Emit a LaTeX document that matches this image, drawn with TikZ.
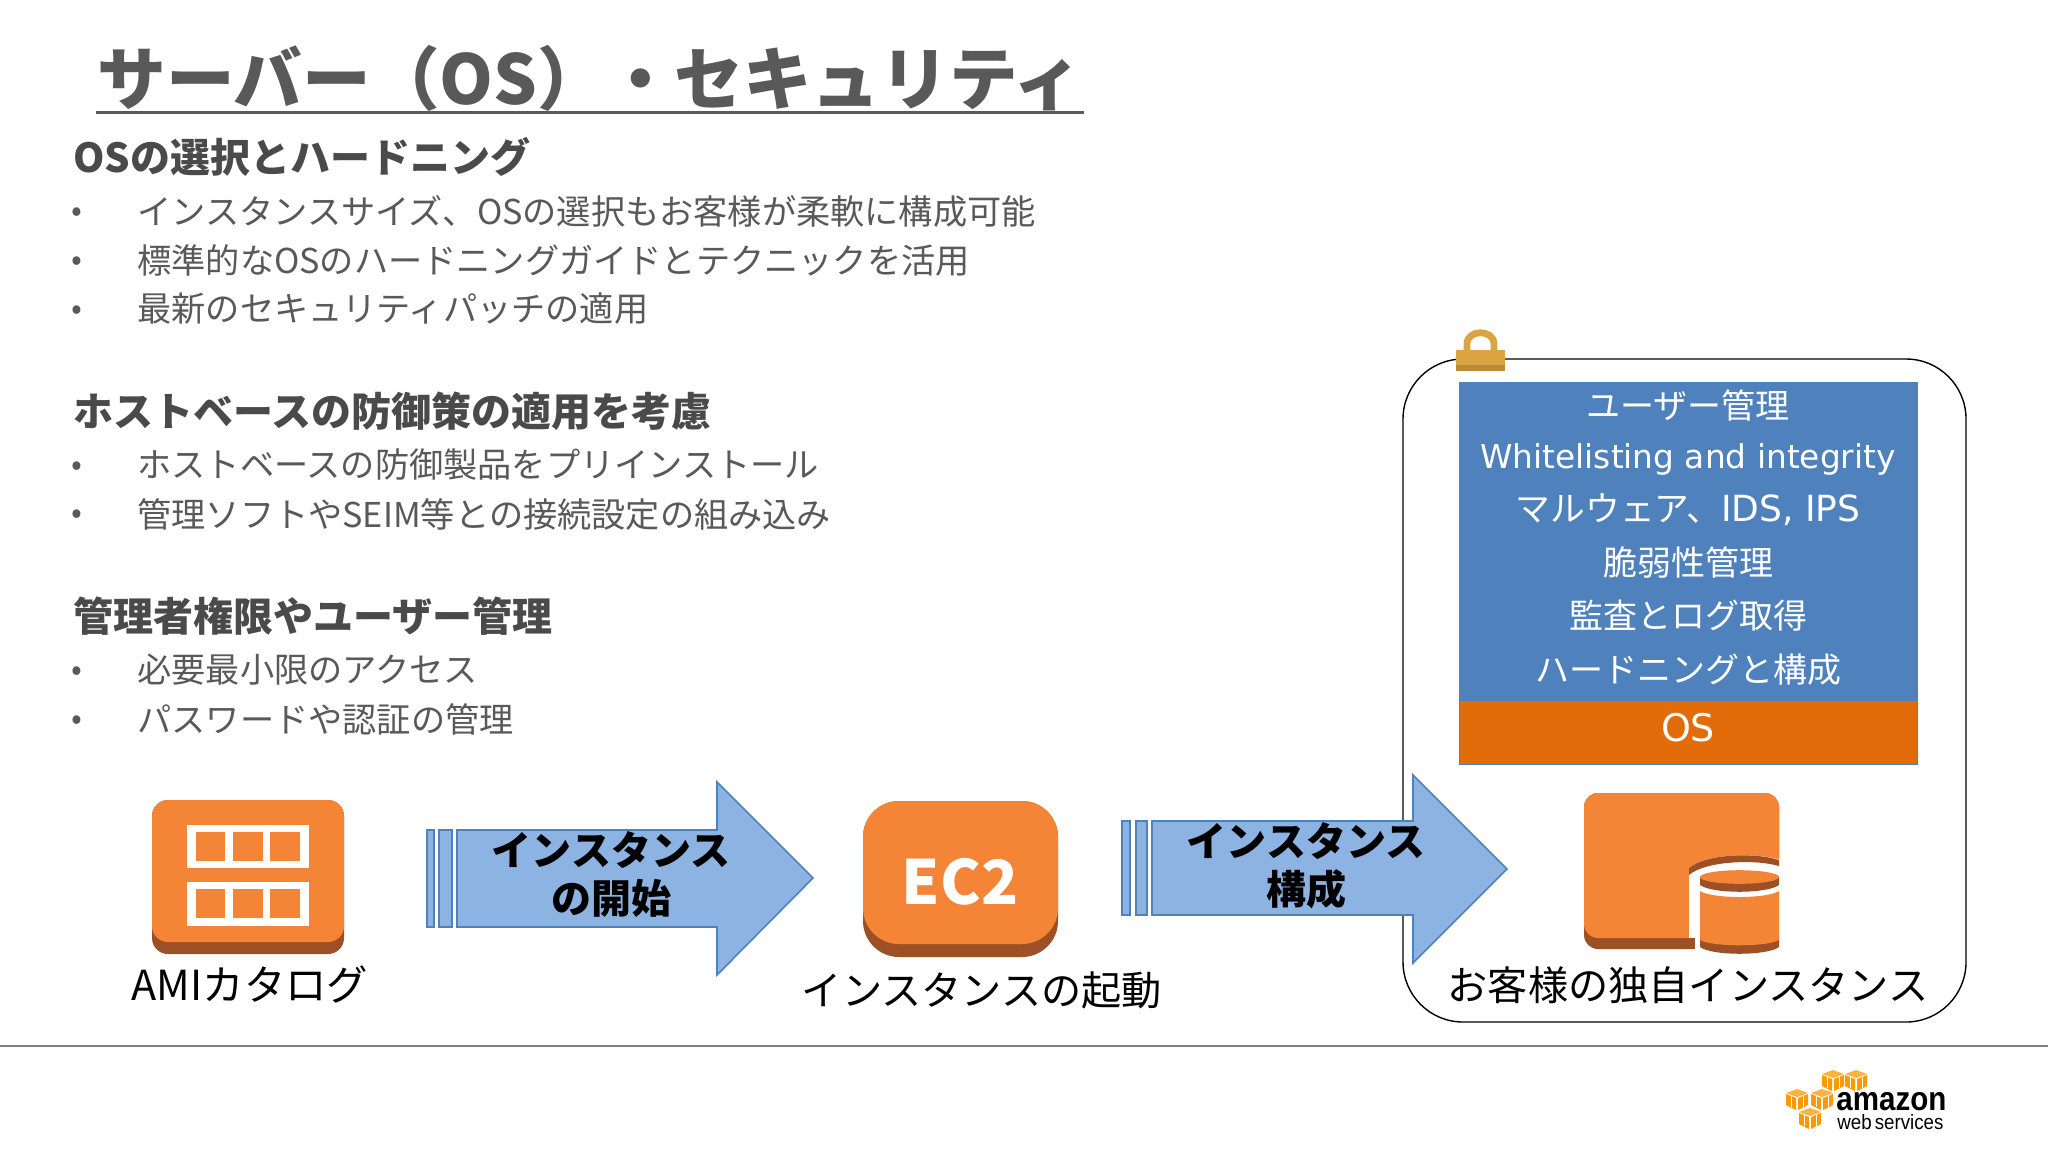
\documentclass[tikz,border=0pt]{standalone}
\usepackage{fontspec}
\setmainfont{Noto Sans CJK JP}
\newfontfamily\latinfont{DejaVu Sans}
\newfontfamily\logofont{Liberation Sans}
\definecolor{titlegray}{HTML}{595959}
\definecolor{headgray}{HTML}{4A4A4A}
\definecolor{awsorange}{HTML}{F58536}
\definecolor{awsdark}{HTML}{9D5025}
\definecolor{arrowblue}{HTML}{8DB3E2}
\definecolor{arrowline}{HTML}{4F81BD}
\definecolor{stackblue}{HTML}{4F81BD}
\definecolor{osorange}{HTML}{E36C0A}
\definecolor{lockgold}{HTML}{D9A441}
\definecolor{cubeorange}{HTML}{FF9900}
\tikzset{
  headtext/.style={anchor=west,inner sep=0pt,text=headgray,font=\fontsize{20}{24}\selectfont\bfseries},
  bodytext/.style={anchor=west,inner sep=0pt,text=titlegray,font=\fontsize{17.1}{20}\selectfont},
  bulletmark/.style={anchor=center,inner sep=0pt,text=titlegray,font=\fontsize{16}{18}\selectfont},
  arrowtext/.style={anchor=center,inner sep=0pt,text=black,font=\fontsize{20}{24}\selectfont\bfseries},
  icontext/.style={anchor=center,inner sep=0pt,text=black,font=\fontsize{20.1}{24}\selectfont},
  stacktext/.style={anchor=center,inner sep=0pt,text=white,font=\fontsize{17}{20}\selectfont},
  blockarrow/.style={fill=arrowblue,draw=arrowline,line width=0.8pt},
}
% one cube of the logo, #1 and #2 are its centre
\newcommand{\awscube}[2]{
  \fill[cubeorange!75!white,shift={(#1,#2)}] (-11,-6) -- (0,-10) -- (11,-6) -- (0,-2) -- cycle;
  \fill[cubeorange,shift={(#1,#2)}] (-11,-5) -- (-1,-1) -- (-1,11) -- (-11,6) -- cycle;
  \fill[cubeorange,shift={(#1,#2)}] (11,-5) -- (1,-1) -- (1,11) -- (11,6) -- cycle;
  \draw[white,line width=0.4pt,shift={(#1,#2)}] (-6,-3) -- (-6,8);
  \draw[white,line width=0.4pt,shift={(#1,#2)}] (6,-3) -- (6,8);
}
\begin{document}
\begin{tikzpicture}[x=0.5pt,y=-0.5pt]
\useasboundingbox (0,0) rectangle (2048,1152);
\fill[white] (0,0) rectangle (2048,1152);
% title
\node[anchor=west,inner sep=0pt,text=titlegray,font=\fontsize{34.3}{40}\selectfont\bfseries] (title) at (97,78) {サーバー（OS）・セキュリティ};
\draw[titlegray,line width=1.5pt] (96,112) -- (1084,112);
% left column
\node[headtext] (headone) at (73,157) {OSの選択とハードニング};
\node[bulletmark] (dotone) at (77,215) {•};
\node[bodytext] (lineone) at (137,211) {インスタンスサイズ、OSの選択もお客様が柔軟に構成可能};
\node[bulletmark] (dottwo) at (77,264) {•};
\node[bodytext] (linetwo) at (137,260) {標準的なOSのハードニングガイドとテクニックを活用};
\node[bulletmark] (dotthree) at (77,313) {•};
\node[bodytext] (linethree) at (137,309) {最新のセキュリティパッチの適用};
\node[headtext] (headtwo) at (73,411) {ホストベースの防御策の適用を考慮};
\node[bulletmark] (dotfour) at (77,469) {•};
\node[bodytext] (linefour) at (137,465) {ホストベースの防御製品をプリインストール};
\node[bulletmark] (dotfive) at (77,517) {•};
\node[bodytext] (linefive) at (137,514) {管理ソフトやSEIM等との接続設定の組み込み};
\node[headtext] (headthree) at (73,616) {管理者権限やユーザー管理};
\node[bulletmark] (dotsix) at (77,674) {•};
\node[bodytext] (linesix) at (137,670) {必要最小限のアクセス};
\node[bulletmark] (dotseven) at (77,723) {•};
\node[bodytext] (lineseven) at (137,719) {パスワードや認証の管理};
% AMI icon
\fill[awsdark,rounded corners=8pt] (152,800) rectangle (344,954);
\fill[awsorange,rounded corners=8pt] (152,800) rectangle (344,942);
\fill[white] (187,825) rectangle (309,868);
\fill[white] (187,882) rectangle (309,926);
\fill[awsorange] (196,832) rectangle (225,861);
\fill[awsorange] (233,832) rectangle (263,861);
\fill[awsorange] (270,832) rectangle (300,861);
\fill[awsorange] (196,889) rectangle (225,918);
\fill[awsorange] (233,889) rectangle (263,918);
\fill[awsorange] (270,889) rectangle (300,918);
\node[icontext,font=\fontsize{20.7}{24}\selectfont] (amilabel) at (250,985) {AMIカタログ};
% first arrow
\draw[blockarrow] (427,830) rectangle (434,927);
\draw[blockarrow] (439,830) rectangle (452,927);
\draw[blockarrow] (457,830) -- (717,830) -- (717,782) -- (813,878) -- (717,975) -- (717,927) -- (457,927) -- cycle;
\node[arrowtext] (startone) at (611,850) {インスタンス};
\node[arrowtext] (starttwo) at (611,898) {の開始};
% EC2 icon
\fill[awsdark,rounded corners=18pt] (863,801) rectangle (1058,957);
\fill[awsorange,rounded corners=18pt] (863,801) rectangle (1058,944);
\node[anchor=center,inner sep=0pt,text=white,font=\fontsize{30.5}{34}\selectfont\bfseries] (ectwo) at (960,882) {EC2};
\node[icontext] (ectwolabel) at (982,990) {インスタンスの起動};
% customer box
\draw[black,line width=0.7pt,rounded corners=30pt] (1403,359) rectangle (1966,1022);
\fill[stackblue] (1459,382) rectangle (1918,765);
\fill[osorange] (1460,701) rectangle (1917,764);
\node[stacktext] (stackone) at (1688,406) {ユーザー管理};
\node[stacktext,font=\fontsize{16.4}{20}\selectfont] (stacktwo) at (1688,459) {\latinfont Whitelisting and integrity};
\node[stacktext,font=\fontsize{17.4}{20}\selectfont] (stackthree) at (1688,510) {マルウェア、{\latinfont\fontsize{18}{20}\selectfont IDS, IPS}};
\node[stacktext] (stackfour) at (1688,562) {脆弱性管理};
\node[stacktext] (stackfive) at (1688,616) {監査とログ取得};
\node[stacktext] (stacksix) at (1688,670) {ハードニングと構成};
\node[stacktext] (stackos) at (1688,728) {\latinfont\fontsize{19}{22}\selectfont OS};
% lock
\draw[lockgold,line width=3.4pt] (1467,352) -- (1467,344) .. controls (1467,329) and (1494,329) .. (1494,344) -- (1494,352);
\fill[lockgold] (1456,350) rectangle (1505,371);
\fill[lockgold!85!black] (1456,365) rectangle (1505,371);
% second arrow
\draw[blockarrow] (1122,821) rectangle (1130,915);
\draw[blockarrow] (1136,821) rectangle (1147,915);
\draw[blockarrow] (1152,821) -- (1413,821) -- (1413,775) -- (1507,869) -- (1413,963) -- (1413,915) -- (1152,915) -- cycle;
\node[arrowtext] (buildone) at (1306,841) {インスタンス};
\node[arrowtext] (buildtwo) at (1306,889) {構成};
% customer instance icon
\fill[awsdark,rounded corners=7pt] (1584,793) rectangle (1779,949);
\fill[awsorange,rounded corners=7pt] (1584,793) rectangle (1779,938);
\fill[white] (1689,868) .. controls (1705,854) and (1755,852) .. (1781,860) -- (1781,955) -- (1689,955) -- cycle;
\fill[awsdark] (1689,868) .. controls (1705,854) and (1755,852) .. (1779,860) -- (1779,866) .. controls (1755,859) and (1705,861) .. (1689,875) -- cycle;
\fill[awsdark] (1689,938) rectangle (1695,949);
\fill[awsdark] (1700,877) -- (1700,885) .. controls (1712,894) and (1767,894) .. (1779,885) -- (1779,877) -- cycle;
\fill[awsorange] (1739.5,877) circle [x radius=19.75pt,y radius=3.4pt];
\fill[awsdark] (1700,938) -- (1779,938) -- (1779,947) .. controls (1767,956) and (1712,956) .. (1700,947) -- cycle;
\fill[awsorange] (1700,891) .. controls (1712,899) and (1767,899) .. (1779,891) -- (1779,940) .. controls (1767,947) and (1712,947) .. (1700,940) -- cycle;
\node[icontext] (instlabel) at (1688,985) {お客様の独自インスタンス};
% footer line
\draw[gray,line width=0.7pt] (0,1046) -- (2048,1046);
% logo
\awscube{1833}{1080}
\awscube{1856}{1080}
\awscube{1797}{1099}
\awscube{1822}{1099}
\awscube{1810}{1118}
\node[anchor=west,inner sep=0pt,xscale=0.88,text=black,font=\logofont\fontsize{16.8}{20}\selectfont\bfseries] (amazon) at (1836,1102) {amazon};
\node[anchor=west,inner sep=0pt,xscale=0.9,text=black,font=\logofont\fontsize{10.4}{13}\selectfont] (webserv) at (1837,1122) {web\,services};
\end{tikzpicture}
\end{document}
